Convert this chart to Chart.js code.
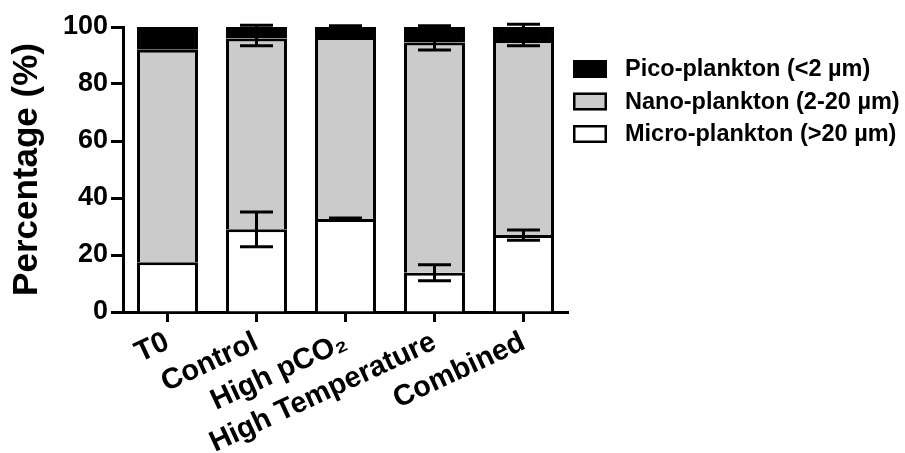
<!DOCTYPE html>
<html>
<head>
<meta charset="utf-8">
<script src="https://cdn.jsdelivr.net/npm/chart.js@4"></script>
<style>
  html, body { margin: 0; padding: 0; background: #ffffff; }
  #wrap { width: 905px; height: 453px; }
</style>
</head>
<body>
<div id="wrap"><canvas id="c" width="905" height="453"></canvas></div>
<script>
// ---- data ----
const categories = ['T0', 'Control', 'High pCO\u2082', 'High Temperature', 'Combined'];
const seriesNames = ['Micro-plankton (>20 \u00b5m)', 'Nano-plankton (2-20 \u00b5m)', 'Pico-plankton (<2 \u00b5m)'];
const micro = [17.5, 29, 32.6, 13.8, 27];
const nano  = [74.5, 67, 63.9, 80.8, 68.4];
const pico  = [8, 4, 3.5, 5.4, 4.6];
const microErr = [0, 6.1, 0.4, 2.8, 1.8];
const nanoErr  = [0, 2.6, 0.4, 2.7, 2.0];
const picoErr  = [0, 0.6, 0.4, 0.4, 1.0];
const yTicks = [0, 20, 40, 60, 80, 100];

const FONT = 'Liberation Sans, Arial, Helvetica, sans-serif';
const seriesValues = [micro, nano, pico];
const seriesErrors = [microErr, nanoErr, picoErr];
const fills = ['#ffffff', '#cbcbcb', '#000000'];

const errorBars = {
  id: 'errorBars',
  afterDatasetsDraw(chart) {
    const ctx = chart.ctx;
    const y = chart.scales.y;
    ctx.save();
    ctx.strokeStyle = '#000';
    ctx.lineWidth = 3;
    ctx.lineCap = 'butt';
    chart.data.datasets.forEach((ds, di) => {
      const meta = chart.getDatasetMeta(di);
      meta.data.forEach((bar, i) => {
        const err = seriesErrors[di][i];
        if (!err) return;
        let top = 0;
        for (let k = 0; k <= di; k++) top += seriesValues[k][i];
        const yHi = y.getPixelForValue(top + err);
        const yLo = y.getPixelForValue(top - err);
        const half = 16.5;
        ctx.beginPath();
        ctx.moveTo(bar.x, yHi); ctx.lineTo(bar.x, yLo);
        ctx.moveTo(bar.x - half, yHi); ctx.lineTo(bar.x + half, yHi);
        ctx.moveTo(bar.x - half, yLo); ctx.lineTo(bar.x + half, yLo);
        ctx.stroke();
      });
    });
    ctx.restore();
  }
};

// legend drawn to the right of the plot area (items top to bottom: last dataset first)
const sideLegend = {
  id: 'sideLegend',
  afterDraw(chart) {
    const ctx = chart.ctx;
    const area = chart.chartArea;
    const boxX = area.right + 5;
    const boxW = 34, boxH = 18;
    const textX = boxX + boxW + 18;
    const firstY = 69, step = 32.5;
    ctx.save();
    ctx.font = 'bold 23.5px ' + FONT;
    ctx.textBaseline = 'middle';
    ctx.textAlign = 'left';
    const n = chart.data.datasets.length;
    for (let r = 0; r < n; r++) {
      const ds = chart.data.datasets[n - 1 - r];
      const cy = firstY + r * step;
      ctx.fillStyle = ds.backgroundColor;
      ctx.fillRect(boxX, cy - boxH / 2, boxW, boxH);
      ctx.strokeStyle = '#000';
      ctx.lineWidth = 2.5;
      ctx.strokeRect(boxX + 1.25, cy - boxH / 2 + 1.25, boxW - 2.5, boxH - 2.5);
      ctx.fillStyle = '#000';
      ctx.fillText(ds.label, textX, cy + 1);
    }
    ctx.restore();
  }
};

new Chart(document.getElementById('c'), {
  type: 'bar',
  data: {
    labels: categories,
    datasets: seriesValues.map((vals, i) => ({
      label: seriesNames[i],
      data: vals,
      backgroundColor: fills[i],
      borderColor: '#000000',
      borderWidth: 3,
      borderSkipped: 'start',
      barPercentage: 0.685,
      categoryPercentage: 1.0
    }))
  },
  options: {
    responsive: false,
    animation: false,
    layout: { padding: { top: 27, right: 337, bottom: 0, left: 0 } },
    plugins: {
      tooltip: { enabled: false },
      legend: { display: false }
    },
    scales: {
      x: {
        stacked: true,
        offset: true,
        afterFit: (s) => { s.height = 141; },
        grid: { display: true, offset: false, drawOnChartArea: false, drawTicks: true, tickLength: 10, tickWidth: 3, tickColor: '#000' },
        border: { display: true, color: '#000', width: 3 },
        ticks: {
          autoSkip: false,
          minRotation: 25,
          maxRotation: 25,
          padding: 3,
          color: '#000',
          font: { family: FONT, size: 29, weight: 'bold' }
        }
      },
      y: {
        stacked: true,
        min: 0,
        max: 100,
        afterFit: (s) => { s.width = 123; },
        afterBuildTicks: (s) => { s.ticks = yTicks.map(v => ({ value: v })); },
        grid: { display: true, drawOnChartArea: false, drawTicks: true, tickLength: 12, tickWidth: 3, tickColor: '#000' },
        border: { display: true, color: '#000', width: 3 },
        ticks: {
          padding: 3,
          color: '#000',
          font: { family: FONT, size: 27, weight: 'bold' }
        },
        title: {
          display: true,
          text: 'Percentage (%)',
          color: '#000',
          padding: { top: 6, bottom: 0 },
          font: { family: FONT, size: 35, weight: 'bold' }
        }
      }
    }
  },
  plugins: [errorBars, sideLegend]
});
</script>
</body>
</html>
